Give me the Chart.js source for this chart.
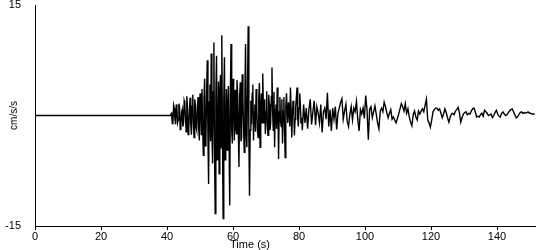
<!DOCTYPE html>
<html>
<head>
<meta charset="utf-8">
<script src="https://cdn.jsdelivr.net/npm/chart.js@4/dist/chart.umd.min.js"></script>
<style>
  body { margin: 0; background: #fff; }
  #wrap { width: 550px; height: 250px; }
</style>
</head>
<body>
<div id="wrap"><canvas id="chart" width="550" height="250"></canvas></div>
<script>
// flat until the P arrival at 41 s
const quietStart = 0;

// strong motion, 41 s to 80.8 s, every 0.2 s (cm/s/s)
const strongStart = 41;
const strongStep = 0.2;
const strongMotion = [
  0, 0.2, 0.3, -1.1, -0.8, 1.4, 1.0, -0.5, -1.2, 1.5, 0.9, -1.0, -0.6, 1.6, 1.1, -1.9, -1.4, 0.4, 0.8, -1.5,
  -1.0, 2.0, 1.6, -0.5, -2.2, 2.6, 1.2, -2.6, -1.8, 0.7, 2.4, -1.2, -2.6, 1.3, 2.8, -1.1, -3.0, 2.2, 1.5, -1.6,
  -2.0, 1.0, 2.5, -1.6, -3.4, 3.0, 1.8, -2.6, 3.6, -1.5, -5.4, 2.2, 5.0, -4.1, -3.0, 3.3, 7.5, -2.8, -9.3, 1.8,
  4.2, -3.5, 8.4, -2.0, -6.5, 3.2, 9.9, -5.0, -13.3, 2.5, 8.1, -6.0, -4.0, 4.6, -7.9, 3.0, 5.5, -4.4, 10.9, -3.0,
  -14.0, 2.0, 7.9, -6.0, -2.5, 3.6, -4.7, 1.4, 4.0, -3.5, -12.2, 3.0, 9.7, -2.0, -3.8, 5.0, 2.0, -3.4, 3.5, -1.5,
  -2.5, 4.8, 3.0, -2.0, -7.0, 2.5, 4.5, -3.5, -3.0, 5.6, 2.5, -1.5, -5.0, 3.0, 9.7, -2.5, -4.3, 4.0, 12.1, -3.0,
  -10.9, -2.0, 2.0, -1.2, 3.0, 4.2, -3.4, 0.5, 1.5, -2.2, 3.6, 1.2, -2.0, -3.0, 2.4, 4.4, -4.3, 1.0, 3.0, -1.0,
  5.7, 1.2, -1.0, 2.2, -2.5, 0.6, 3.3, -1.4, -2.7, 2.8, 1.5, -2.0, -1.0, 2.6, 6.5, 0.4, -2.0, 3.2, -4.3, 0.8,
  1.5, -1.8, 3.8, 1.0, -5.9, 0.5, 2.5, -0.8, -1.5, 2.2, -3.8, 0.6, 2.5, -1.6, -5.7, 1.2, 3.0, 0.5, -1.0, 1.8,
  1.0, -1.5, 3.8, 0.8, -3.0, 0.2, 2.0, 1.2, -2.7, -0.5, 1.2, 2.5, 3.8, -0.4, -1.5, 1.0, 3.0, 1.5, -1.0, -0.3
];

// coda, from 81 s, every 0.4 s (cm/s/s)
const codaStart = 81;
const codaStep = 0.4;
const coda = [
  -2.0, 1.5, -1.0, 1.0, -1.8, 0.8, 2.2, -1.2, 0.5, 2.0,
  -1.3, 1.2, 0.3, -1.0, 1.5, -2.3, 0.5, 1.0, -0.5, 3.1,
  -1.5, 0.8, -2.1, 1.0, -0.5, 1.2, -1.9, 0.3, 1.0, 1.8,
  2.3, -0.5, 0.6, 1.5, -0.8, -1.5, 0.2, 1.2, -0.6, 1.0,
  0.5, 1.9, -0.5, -2.1, 0.8, 0.2, 1.0, -0.4, 2.7, 0.8,
  -3.3, 0.9, 1.2, -0.3, 0.5, 1.3, 0.2, -1.0, -1.8, 0.6,
  1.0, 0.5, 1.8, 1.2, 0.4, -0.3, 0.3, 0.8, -0.5, -0.2,
  -0.6, -1.0, -0.4, 0.2, 0.9, 1.6, 1.2, 0.6, 1.6, 0.3,
  0.9, -0.2, -0.9, -1.4, 0.1, 0.6, -0.2, -0.6, 0.6, 0.2,
  0.6, 0.9, 0.5, 1.4, 2.2, -0.6, -1.0, -1.6, -0.6, 0.5,
  0.8, 1.0, 1.0, 0.7, 0.9, 0.3, -0.3, 0.2, 0.9, 0.4,
  -0.3, -0.9, -0.2, 0.2, 0.3, 0.1, 0.6, 0.8, 1.1, 0.4,
  -0.9, -0.3, 0.2, 0.4, 0.5, 0.1, 0.3, 0.2, 0.6, 0.9,
  1.0, 0.5, -0.2, -0.1, -0.2, 0.1, 0.3, -0.1, 0.7, 0.5,
  0.3, 0.0, 0.1, 0.2, -0.3, 0.0, 0.4, 0.7, 0.2, -0.1,
  -0.2, 0.3, 0.5, 0.2, 0.0, 0.1, 0.4, 0.6, 0.8, 0.9,
  0.5, 0.1, -0.3, -0.2, 0.1, 0.4, 0.5, 0.3, 0.4, 0.3,
  0.4, 0.5, 0.3, 0.3, 0.2, 0.2, 0.2
];

const xTicks = [0, 20, 40, 60, 80, 100, 120, 140];
const yTicks = [-15, 15];
const xTitle = "Time (s)";
const yTitle = "cm/s/s";

const points = [{ x: quietStart, y: 0 }];
strongMotion.forEach((v, i) => {
  points.push({ x: strongStart + i * strongStep, y: v });
});
coda.forEach((v, i) => {
  points.push({ x: codaStart + i * codaStep, y: v });
});

const font = { family: "'Liberation Sans', Arial, sans-serif", size: 11 };

// x axis caption sits a bit left of the plot centre in the original
const xTitlePlugin = {
  id: "xTitle",
  afterDraw(chart) {
    const ctx = chart.ctx;
    const area = chart.chartArea;
    ctx.save();
    ctx.font = "11px 'Liberation Sans', Arial, sans-serif";
    ctx.fillStyle = "#000";
    ctx.textAlign = "center";
    ctx.textBaseline = "middle";
    ctx.fillText(xTitle, area.left + (area.right - area.left) * 0.43, area.bottom + 19);
    ctx.restore();
  }
};

new Chart(document.getElementById("chart"), {
  type: "line",
  data: {
    datasets: [
      {
        data: points,
        borderColor: "#000",
        borderWidth: 1.4,
        pointRadius: 0,
        tension: 0,
        fill: false
      }
    ]
  },
  options: {
    responsive: false,
    animation: false,
    layout: { padding: { top: 5, right: 15, left: 0, bottom: 0 } },
    plugins: {
      legend: { display: false },
      tooltip: { enabled: false }
    },
    scales: {
      x: {
        type: "linear",
        min: 0,
        max: 151.5,
        afterBuildTicks: (scale) => {
          scale.ticks = xTicks.map((v) => ({ value: v }));
        },
        afterFit: (scale) => {
          scale.height = 24;
          scale.paddingLeft = 0;
          scale.paddingRight = 0;
        },
        border: { display: true, color: "#000", width: 1 },
        grid: { drawOnChartArea: false, drawTicks: true, tickLength: 4, color: "#000" },
        ticks: { color: "#000", font: font, padding: 0, maxRotation: 0 }
      },
      y: {
        min: -15,
        max: 15,
        afterBuildTicks: (scale) => {
          scale.ticks = yTicks.map((v) => ({ value: v }));
        },
        afterFit: (scale) => {
          scale.width = 35;
          scale.paddingTop = 0;
          scale.paddingBottom = 0;
        },
        border: { display: true, color: "#000", width: 1 },
        grid: { display: false },
        title: { display: true, text: yTitle, color: "#000", font: { family: font.family, size: 10 }, padding: { top: 8, bottom: 0 } },
        ticks: { color: "#000", font: font, padding: 6 }
      }
    }
  },
  plugins: [xTitlePlugin]
});
</script>
</body>
</html>
